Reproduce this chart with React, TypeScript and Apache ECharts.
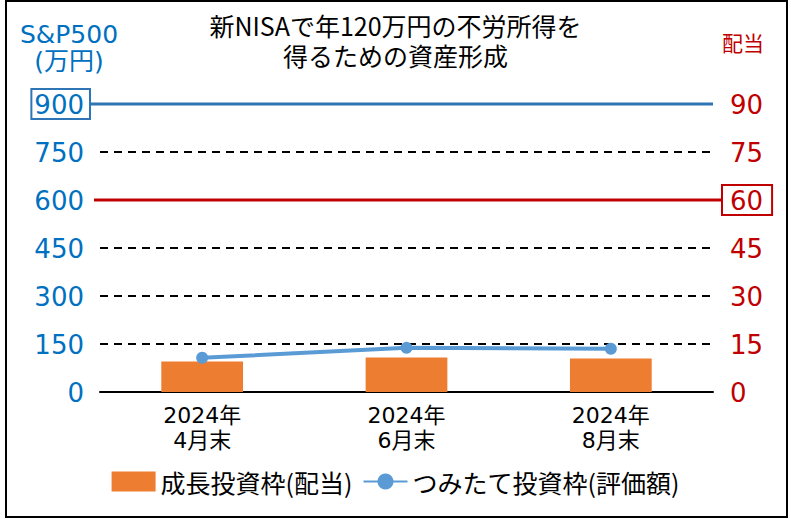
import React, { useEffect, useRef } from "react";
import * as echarts from "echarts";

const categories = ["2024年\n4月末", "2024年\n6月末", "2024年\n8月末"];
const dividendValues = [9.5, 10.8, 10.5];
const tsumitateValues = [107, 138, 135];
const leftTicks = { min: 0, max: 900, interval: 150 };
const rightTicks = { min: 0, max: 90, interval: 15 };
const leftTarget = 900;
const rightTarget = 60;

const FONT = "'Noto Sans CJK JP', 'Noto Sans', sans-serif";
const NUMFONT = "'DejaVu Sans', 'Noto Sans CJK JP', sans-serif";
const BLUE_TEXT = "#0070C0";
const BLUE_LINE = "#2E75B6";
const RED = "#C00000";
const ORANGE = "#ED7D31";
const LINE_BLUE = "#5B9BD5";

export default function App() {
  const ref = useRef<HTMLDivElement>(null);
  useEffect(() => {
    if (!ref.current) return;
    const chart = echarts.init(ref.current, null, { renderer: "svg" });
    const gridLeft = 100;
    const gridRight = 78;
    chart.setOption({
      animation: false,
      backgroundColor: "#fff",
      textStyle: { fontFamily: FONT },
      title: {
        text: "新NISAで年120万円の不労所得を\n得るための資産形成",
        left: "center",
        top: 5,
        textStyle: { fontSize: 25, fontWeight: "normal", color: "#000", lineHeight: 30, fontFamily: FONT },
      },
      grid: { left: gridLeft, right: gridRight, top: 104, bottom: 127 },
      legend: {
        bottom: 20,
        left: "center",
        itemWidth: 44,
        itemHeight: 20,
        itemGap: 10,
        textStyle: { fontSize: 25, color: "#000", fontFamily: FONT },
        data: [
          { name: "成長投資枠(配当)", icon: "rect" },
          { name: "つみたて投資枠(評価額)" },
        ],
      },
      xAxis: {
        type: "category",
        data: categories,
        axisLine: { show: true, lineStyle: { color: "#000", width: 2 } },
        axisTick: { show: false },
        axisLabel: { color: "#000", fontSize: 22, lineHeight: 25, margin: 11, fontFamily: NUMFONT },
      },
      yAxis: [
        {
          type: "value",
          min: leftTicks.min,
          max: leftTicks.max,
          interval: leftTicks.interval,
          axisLine: { show: false },
          axisTick: { show: false },
          splitLine: { show: true, lineStyle: { color: "#000", width: 2, type: [8, 6] } },
          axisLabel: {
            margin: 10,
            formatter: (v: number) => (v === leftTarget ? `{b|${v}}` : `{n|${v}}`),
            rich: {
              n: { color: BLUE_TEXT, fontSize: 26, fontFamily: NUMFONT, padding: [3, 6, 1, 3] },
              b: {
                color: BLUE_TEXT,
                fontSize: 26,
                fontFamily: NUMFONT,
                padding: [3, 6, 1, 3],
                borderColor: BLUE_LINE,
                borderWidth: 2,
              },
            },
          },
        },
        {
          type: "value",
          min: rightTicks.min,
          max: rightTicks.max,
          interval: rightTicks.interval,
          axisLine: { show: false },
          axisTick: { show: false },
          splitLine: { show: false },
          axisLabel: {
            margin: 9,
            formatter: (v: number) => (v === rightTarget ? `{b|${v}}` : `{n|${v}}`),
            rich: {
              n: { color: RED, fontSize: 26, fontFamily: NUMFONT, padding: [3, 9, 1, 8] },
              b: {
                color: RED,
                fontSize: 26,
                fontFamily: NUMFONT,
                padding: [3, 9, 1, 8],
                borderColor: RED,
                borderWidth: 2,
              },
            },
          },
        },
      ],
      series: [
        {
          name: "成長投資枠(配当)",
          type: "bar",
          yAxisIndex: 1,
          data: dividendValues,
          barWidth: "40%",
          itemStyle: { color: ORANGE },
        },
        {
          name: "つみたて投資枠(評価額)",
          type: "line",
          yAxisIndex: 0,
          data: tsumitateValues,
          symbol: "circle",
          symbolSize: 12,
          lineStyle: { color: LINE_BLUE, width: 4 },
          itemStyle: { color: LINE_BLUE },
          z: 5,
        },
      ],
    });

    const yBlue = chart.convertToPixel({ yAxisIndex: 0 }, leftTarget) as number;
    const yRed = chart.convertToPixel({ yAxisIndex: 1 }, rightTarget) as number;
    const plotRight = 791 - gridRight;

    chart.setOption({
      graphic: [
        {
          type: "rect",
          shape: { x: 6, y: 1, width: 781, height: 516 },
          style: { fill: "none", stroke: "#000", lineWidth: 2 },
          silent: true,
        },
        {
          type: "text",
          x: 69,
          y: 48,
          style: {
            text: "S&P500\n(万円)",
            fill: BLUE_TEXT,
            font: `25px ${NUMFONT}`,
            lineHeight: 27,
            textAlign: "center",
            textVerticalAlign: "middle",
          },
        },
        {
          type: "text",
          x: 743,
          y: 42,
          style: { text: "配当", fill: RED, font: `21px ${FONT}`, textAlign: "center", textVerticalAlign: "middle" },
        },
        {
          type: "line",
          z: 10,
          silent: true,
          shape: { x1: gridLeft - 10, y1: yBlue, x2: plotRight, y2: yBlue },
          style: { stroke: BLUE_LINE, lineWidth: 3 },
        },
        {
          type: "line",
          z: 10,
          silent: true,
          shape: { x1: gridLeft - 6, y1: yRed, x2: plotRight + 9, y2: yRed },
          style: { stroke: RED, lineWidth: 3 },
        },
      ],
    });
    return () => chart.dispose();
  }, []);
  return (
    <div
      ref={ref}
      style={{ position: "fixed", left: 0, top: 0, width: 791, height: 519 }}
    />
  );
}
